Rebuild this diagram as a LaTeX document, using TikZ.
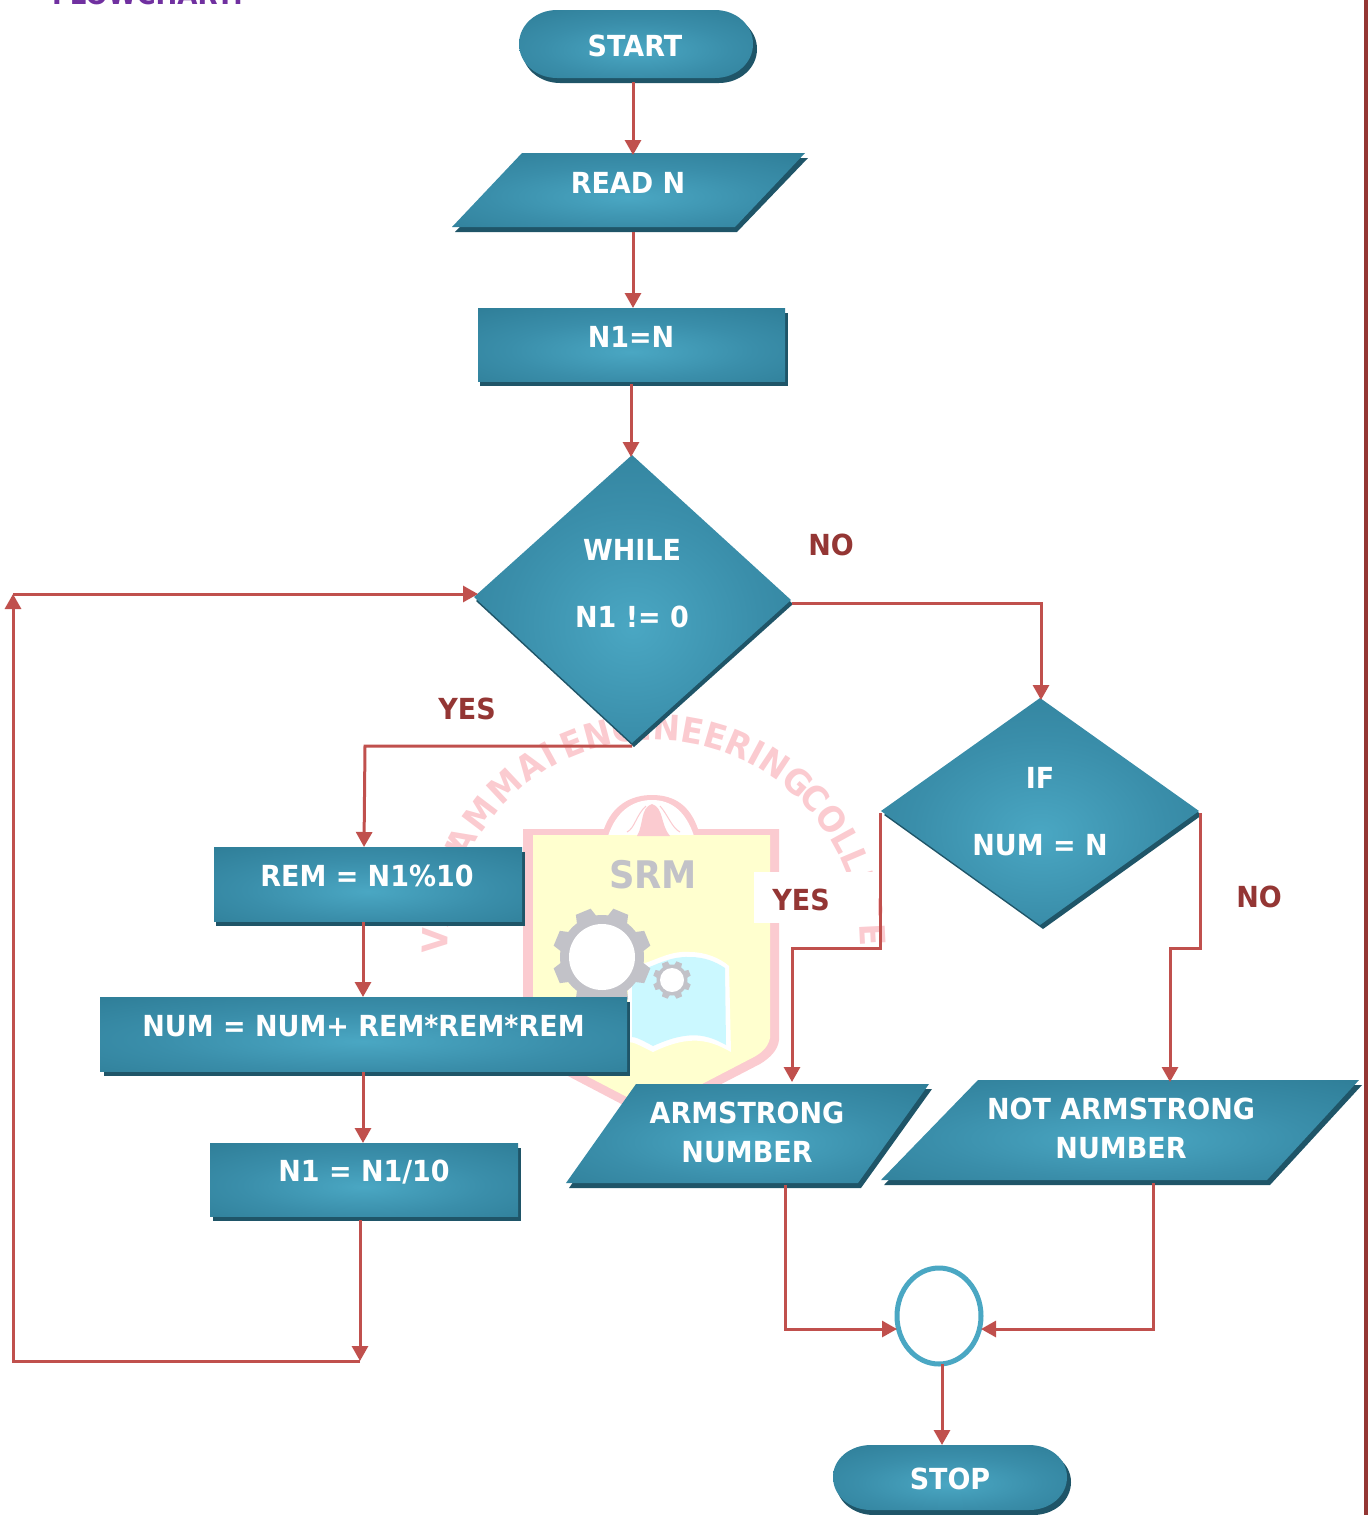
\documentclass[tikz,border=0pt]{standalone}
\usepackage{fontspec}
\setmainfont{DejaVu Sans}[FakeStretch=0.93]
\usetikzlibrary{arrows.meta,calc,decorations.text,shapes.geometric}
\definecolor{glowc}{HTML}{4AA7C3}
\definecolor{glowm}{HTML}{3A8EAA}
\definecolor{glowe}{HTML}{2F7E98}
\definecolor{shadowc}{HTML}{1F5568}
\definecolor{linkc}{HTML}{C0504D}
\definecolor{labelc}{HTML}{943634}
\definecolor{wmpink}{HTML}{FBCBD0}
\definecolor{wmgrey}{HTML}{C2C2C8}
\definecolor{wmyellow}{HTML}{FFFFCF}
\definecolor{wmblue}{HTML}{CBF8FF}
\definecolor{titlec}{HTML}{7030A0}
\pgfdeclareradialshading{glow}{\pgfpoint{0bp}{-5bp}}{color(0bp)=(glowc);color(20bp)=(glowm);color(38bp)=(glowe);color(100bp)=(glowe)}
\newcommand{\wmstyle}{\fontsize{35}{40}\selectfont\bfseries\color{wmpink}}
\tikzset{
  x=1pt,y=-1pt,
  bodyshape/.style={shade,shading=glow},
  dropshape/.style={fill=shadowc},
  hull/.style={inner sep=0pt,outer sep=0pt,minimum width=#1},
  hh/.style={minimum height=#1},
  btext/.style={text=white,font=\fontsize{29}{33}\selectfont\bfseries,inner sep=0pt,align=center},
  lab/.style={text=labelc,font=\fontsize{29}{33}\selectfont\bfseries,inner sep=0pt},
  link/.style={draw=linkc,line width=3pt,-{Triangle[length=15pt,width=16pt]}},
}
\begin{document}
\begin{tikzpicture}
\useasboundingbox (0,0) rectangle (1368,1515);
\begin{scope}
\clip (0,0) rectangle (1368,1515);
% title cut off at the top
\node[anchor=base west,inner sep=0pt,text=titlec,font=\fontsize{28}{32}\selectfont\bfseries] (title) at (52,5) {FLOWCHART:};
% right border
\fill[labelc] (1363.5,0) rectangle (1365.6,1515);
\fill[labelc] (1366.4,0) rectangle (1368,1515);
% watermark
\begin{scope}[shift={(654,946)},y=1pt]
\path[decorate,decoration={text along path,text align={fit to path},text={|\wmstyle|VALLI}}] (182:206) arc (182:152:206);
\path[decorate,decoration={text along path,text align={fit to path},text={|\wmstyle|AMMAI}}] (155:206) arc (155:117:206);
\path[decorate,decoration={text along path,text align={fit to path},text={|\wmstyle|ENGINEERING}}] (115:206) arc (115:48:206);
\path[decorate,decoration={text along path,text align={fit to path},text={|\wmstyle|COLLEG}}] (46:206) arc (46:8:206);
\path[decorate,decoration={text along path,text={|\wmstyle|E}}] (6:206) arc (6:-12:206);
\end{scope}
\fill[wmpink] (523,829) -- (604,829) .. controls (612,806) and (630,795) .. (652,795) .. controls (675,795) and (690,806) .. (698,829) -- (779,829) -- (779,1040) .. controls (778,1050) and (770,1058) .. (760,1064) -- (652,1120) -- (545,1064) .. controls (530,1055) and (523,1045) .. (523,1035) -- cycle;
\fill[white] (608,836) .. controls (616,812) and (632,800) .. (652,800) .. controls (672,800) and (686,812) .. (694,836) -- cycle;
\fill[wmyellow] (533,835) -- (770,835) -- (770,1038) .. controls (768,1048) and (760,1054) .. (752,1058) -- (652,1110) -- (552,1058) .. controls (542,1052) and (533,1045) .. (533,1030) -- cycle;
\fill[wmpink] (637,836) .. controls (644,824) and (640,808) .. (652,804) .. controls (664,808) and (660,824) .. (670,836) -- cycle;
\draw[wmpink,line width=1pt] (627,832) .. controls (635,828) and (636,815) .. (646,806) (680,832) .. controls (672,828) and (668,815) .. (660,806);
\node[text=wmgrey,font=\fontsize{38}{40}\selectfont\bfseries,inner sep=0pt] (srm) at (653,875) {SRM};
% book
\fill[white] (628,966) .. controls (650,966) and (665,950) .. (690,952) .. controls (705,952) and (720,958) .. (729,966) -- (731,1052) .. controls (710,1040) and (690,1034) .. (653,1052) .. controls (640,1046) and (635,1042) .. (628,1042) -- cycle;
\fill[wmblue] (632,972) .. controls (650,970) and (665,956) .. (690,957) .. controls (705,957) and (716,962) .. (725,968) -- (726,1045) .. controls (708,1035) and (690,1029) .. (653,1046) .. controls (642,1040) and (636,1037) .. (632,1037) -- cycle;
% gears
\foreach \a in {0,45,...,315}{
  \fill[wmgrey,shift={(602,957)},rotate=\a+22.5] (38,-11) -- (49,-8) -- (49,8) -- (38,11) -- cycle;
  \fill[wmgrey,shift={(672,980)},rotate=\a+22.5] (13,-4) -- (19,-3) -- (19,3) -- (13,4) -- cycle;
}
\fill[wmgrey] (602,957) circle[radius=42];
\fill[white] (602,957) circle[radius=33];
\fill[wmgrey] (672,980) circle[radius=15.5];
\fill[white] (672,980) circle[radius=12];
% white patch behind YES
\fill[white] (754,872) rectangle (878,923);

% START
\node[hull=237pt,hh=73pt] (start) at (637.5,46.5) {};
\fill[dropshape] (560,15) -- (719,15) .. controls (740,15) and (757,30) .. (757,49) .. controls (757,68) and (740,83) .. (719,83) -- (560,83) .. controls (539,83) and (522,68) .. (522,49) .. controls (522,30) and (539,15) .. (560,15) -- cycle;
\shade[bodyshape] (557,10) -- (715,10) .. controls (736,10) and (753,25) .. (753,44) .. controls (753,63) and (736,78) .. (715,78) -- (557,78) .. controls (536,78) and (519,63) .. (519,44) .. controls (519,25) and (536,10) .. (557,10) -- cycle;
\node[btext] (startT) at (635,46) {START};
% READ N
\node[hull=354pt,hh=79pt] (read) at (630,192.5) {};
\fill[dropshape] (525,158) -- (808,158) -- (737,232) -- (455,232) -- cycle;
\shade[bodyshape] (522,153) -- (805,153) -- (735,227) -- (452,227) -- cycle;
\node[btext] (readT) at (628,183) {READ N};
% N1=N
\node[hull=310pt,hh=77pt] (n1eq) at (633,346.5) {};
\fill[dropshape] (480,313) rectangle (788,386);
\shade[bodyshape] (478,308) rectangle (785,381);
\node[btext] (n1eqT) at (631,337) {N1=N};
% WHILE
\node[hull=319pt,hh=292pt] (whiled) at (633.5,601) {};
\fill[dropshape] (634,459) -- (793,604) -- (634,747) -- (476,601) -- cycle;
\shade[bodyshape] (632,455) -- (791,600) -- (632,743) -- (474,597) -- cycle;
\node[btext] (whileA) at (632,550) {WHILE};
\node[btext] (whileB) at (632,617) {N1 != 0};
% IF
\node[hull=321pt,hh=231pt] (ifd) at (1041.5,813.5) {};
\fill[dropshape] (1043,702) -- (1202,815) -- (1043,929) -- (884,815) -- cycle;
\shade[bodyshape] (1040,698) -- (1199,811) -- (1040,925) -- (881,811) -- cycle;
\node[btext] (ifA) at (1040,778) {IF};
\node[btext] (ifB) at (1040,845) {NUM = N};
% REM
\node[hull=311pt,hh=79pt] (rem) at (369.5,886.5) {};
\fill[dropshape] (216,852) rectangle (525,926);
\shade[bodyshape] (214,847) rectangle (522,921);
\node[btext] (remT) at (367,876) {REM = N1\%10};
% NUM
\node[hull=530pt,hh=79pt] (num) at (365,1036.5) {};
\fill[dropshape] (104,1002) rectangle (630,1076);
\shade[bodyshape] (100,997) rectangle (627,1071);
\node[btext] (numT) at (363.5,1026) {NUM = NUM+ REM*REM*REM};
% N1/10
\node[hull=311pt,hh=78pt] (n1d) at (365.5,1182) {};
\fill[dropshape] (213,1148) rectangle (521,1221);
\shade[bodyshape] (210,1143) rectangle (518,1216);
\node[btext] (n1dT) at (364,1172) {N1 = N1/10};
% ARMSTRONG
\node[hull=366pt,hh=104pt] (arm) at (749,1136) {};
\fill[dropshape] (639,1089) -- (932,1089) -- (861,1188) -- (569,1188) -- cycle;
\shade[bodyshape] (636,1084) -- (929,1084) -- (858,1183) -- (566,1183) -- cycle;
\node[btext] (armT) at (747,1132) {ARMSTRONG\\[6pt]NUMBER};
% NOT ARMSTRONG
\node[hull=481pt,hh=105pt] (notd) at (1121.5,1132.5) {};
\fill[dropshape] (981,1085) -- (1362,1085) -- (1270,1185) -- (884,1185) -- cycle;
\shade[bodyshape] (978,1080) -- (1359,1080) -- (1267,1180) -- (881,1180) -- cycle;
\node[btext] (notT) at (1121,1128) {NOT ARMSTRONG\\[6pt]NUMBER};
% connector circle
\node[ellipse,draw=glowc,fill=white,line width=5pt,inner sep=0pt,outer sep=0pt,minimum width=84pt,minimum height=96pt] (joinc) at (939,1316) {};
% STOP
\node[hull=238pt,hh=70pt] (stop) at (952,1480) {};
\fill[dropshape] (874,1450) -- (1033,1450) .. controls (1054,1450) and (1071,1464) .. (1071,1482) .. controls (1071,1501) and (1054,1515) .. (1033,1515) -- (874,1515) .. controls (853,1515) and (836,1501) .. (836,1482) .. controls (836,1464) and (853,1450) .. (874,1450) -- cycle;
\shade[bodyshape] (871,1445) -- (1029,1445) .. controls (1050,1445) and (1067,1459) .. (1067,1477) .. controls (1067,1496) and (1050,1510) .. (1029,1510) -- (871,1510) .. controls (850,1510) and (833,1496) .. (833,1477) .. controls (833,1459) and (850,1445) .. (871,1445) -- cycle;
\node[btext] (stopT) at (950,1479) {STOP};

% labels
\node[lab] (noA) at (831,545) {NO};
\node[lab] (yesA) at (467,709) {YES};
\node[lab] (yesB) at (801,900) {YES};
\node[lab] (noB) at (1259,897) {NO};

% connectors
\draw[link] ($(start.south)+(-4.5,-1)$) -- ($(read.north)+(3,2)$);
\draw[link] ($(read.south)+(3,0)$) -- ($(n1eq.north)+(0,0)$);
\draw[link] ($(n1eq.south)+(-2,-1)$) -- ($(whiled.north)+(-2.5,2)$);
\draw[link] ($(whiled.east)+(-1,2)$) -| ($(ifd.north)+(-0.5,2)$);
\coordinate (yesbend) at (365,746);
\draw[link] ($(whiled.south)+(-1.5,-1)$) -- (yesbend) -- ($(rem.north)+(-5.5,0)$);
\draw[link] ($(rem.south)+(-6.5,-4)$) -- ($(num.north)+(-2,0)$);
\draw[link] ($(num.south)+(-2,-4)$) -- ($(n1d.north)+(-2.5,0)$);
\coordinate (loopb) at (360,1361);
\coordinate (loopc) at (13,1361);
\coordinate (loopt) at (13,594);
\draw[link] ($(n1d.south)+(-5.5,-1)$) -- (loopb);
\draw[link] (loopb) -- (loopc) -- (loopt);
\draw[link] (loopt) -- ($(whiled.west)+(4,-7)$);
\coordinate (ifl) at (880,813);
\coordinate (ifr) at (1200,813);
\draw[link] (ifl) -- (880,948) -- (792,948) -- ($(arm.north)+(43,-2)$);
\draw[link] (ifr) -- (1200,948) -- (1170,948) -- ($(notd.north)+(48.5,2)$);
\draw[link] ($(arm.south)+(36,-3)$) |- ($(joinc.west)+(0,13)$);
\draw[link] ($(notd.south)+(31.5,-2)$) |- ($(joinc.east)+(0,13)$);
\draw[link] ($(joinc.south)+(3,0)$) -- ($(stop.north)+(-10,0)$);
\end{scope}
\end{tikzpicture}
\end{document}
